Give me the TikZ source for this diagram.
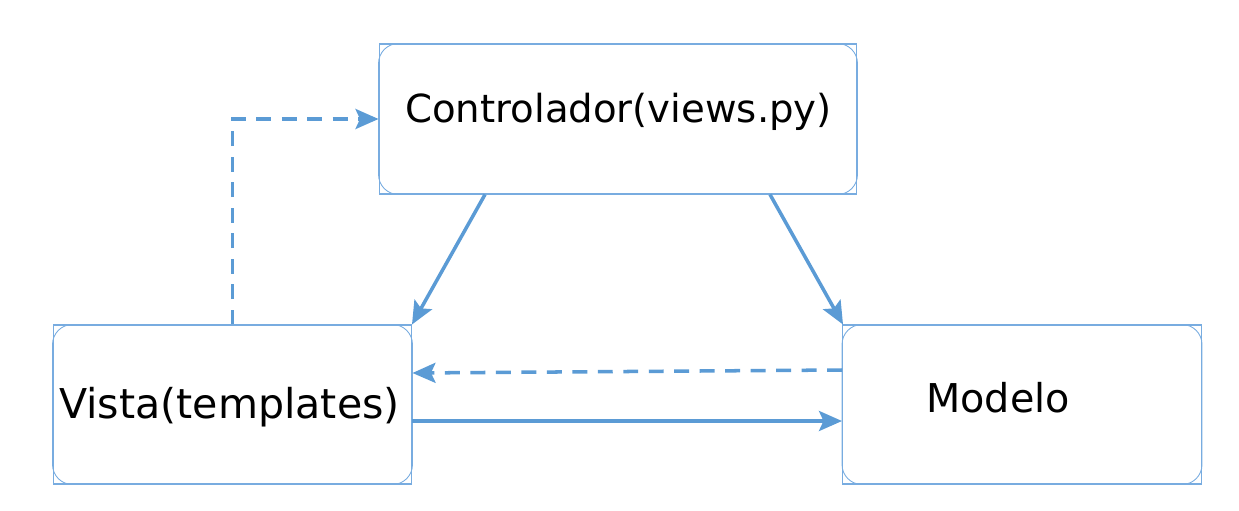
\documentclass[tikz,border=0pt]{standalone}
\usepackage{fontspec}
\setsansfont{DejaVu Sans}
\usetikzlibrary{arrows.meta,positioning}
\definecolor{mvcblue}{RGB}{91,155,213}
\definecolor{edgeblue}{RGB}{120,172,224}

\begin{document}
\begin{tikzpicture}[
    x=0.02cm, y=-0.02cm,
    box/.style={draw=edgeblue, line width=0.6pt, inner sep=0pt,
                minimum width=7.18cm, minimum height=3.18cm},
    corner/.style={draw=edgeblue, line width=0.5pt, rounded corners=0.4cm},
    lab/.style={font=\sffamily\fontsize{22}{26}\selectfont, inner sep=0pt, anchor=base},
    arrow/.style={-{Stealth[length=0.46cm, width=0.4cm, inset=0.09cm]}, draw=mvcblue, line width=2pt},
    dasharrow/.style={arrow, dash pattern=on 8.5pt off 6pt}
  ]
    \useasboundingbox (0,0) rectangle (1239,510);
    \node[box, minimum width=9.56cm, minimum height=3cm] (ctrl) at (618,119) {};
    \node[box] (vista) at (232.5,404.5) {};
    \node[box] (modelo) at (1022,404.5) {};
    \foreach \n in {ctrl,vista,modelo}
      \draw[corner] (\n.south west) rectangle (\n.north east);
    \node[lab] (ctrltxt) at (618.5,122) {Controlador(views.py)};
    \node[lab, font=\sffamily\fontsize{23.4}{28}\selectfont] (vistatxt) at (229.5,418) {Vista(templates)};
    \node[lab, font=\sffamily\fontsize{22.6}{27}\selectfont] (modelotxt) at (998,412) {Modelo};
    \draw[arrow] (ctrl.south -| 485,0) -- (vista.north -| 412,0);
    \draw[arrow] (ctrl.south -| 770,0) -- (modelo.north -| 843,0);
    \draw[dasharrow] (modelo.west |- 0,370) -- (vista.east |- 0,373);
    \draw[arrow] (vista.east |- 0,421) -- (modelo.west |- 0,421);
    \draw[dasharrow] (vista.north) |- (ctrl.west);
  \end{tikzpicture}
\end{document}
